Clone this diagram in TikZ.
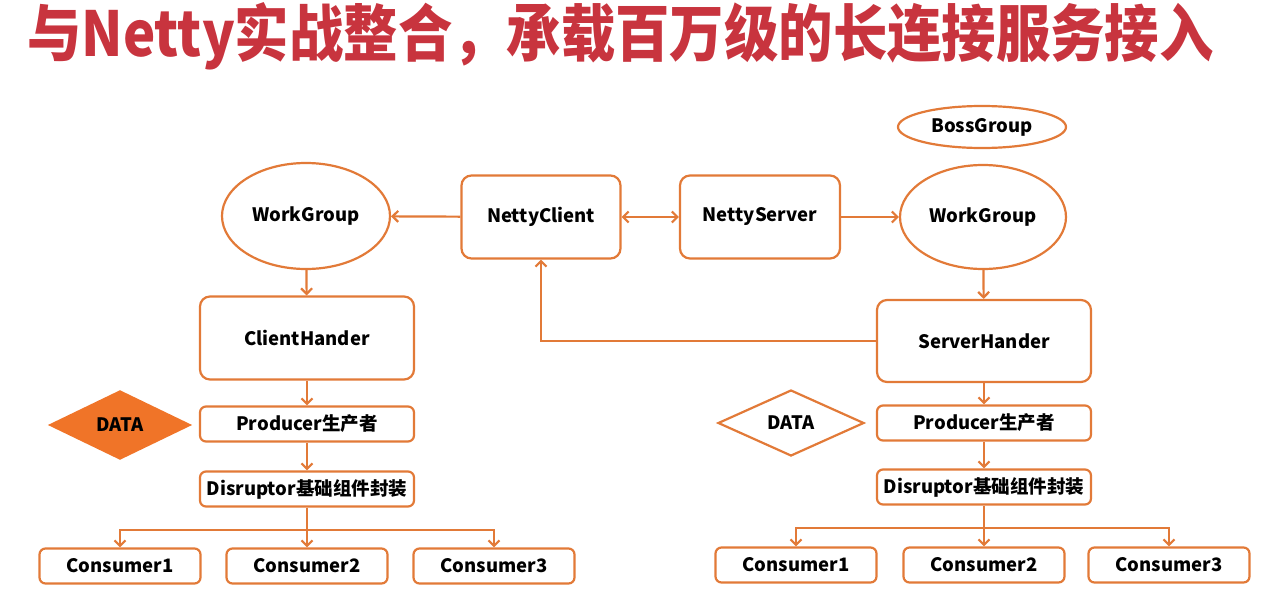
\documentclass[tikz,border=0pt]{standalone}
\usepackage{fontspec}
\setmainfont{Noto Sans CJK SC}
\usetikzlibrary{arrows.meta,shapes.geometric}
\definecolor{org}{RGB}{226,122,56}
\definecolor{orgfill}{RGB}{240,116,40}
\definecolor{titlered}{RGB}{200,52,62}
\tikzset{
  base/.style={draw=org,line width=2.2pt,inner sep=0pt,font=\fontsize{18.5}{20}\selectfont\bfseries,text=black},
  bigbox/.style={base,rounded corners=10pt},
  smallbox/.style={base,rounded corners=6pt,minimum width=214pt,minimum height=35pt},
  consbox/.style={base,rounded corners=6pt,minimum width=161pt,minimum height=35pt},
  ell/.style={base,ellipse},
  dia/.style={base,diamond,aspect=2},
  conn/.style={draw=org,line width=2.2pt},
  arr/.style={conn,-{Straight Barb[length=5.5pt,width=11pt,line width=2.2pt]}},
  darr/.style={conn,{Straight Barb[length=5.5pt,width=11pt,line width=2.2pt]}-{Straight Barb[length=5.5pt,width=11pt,line width=2.2pt]}}
}
\begin{document}
\begin{tikzpicture}[x=1pt,y=-1pt]
\useasboundingbox (0,0) rectangle (1263,597);
\node[anchor=west,inner sep=0pt,text=titlered,font=\fontsize{62}{62}\selectfont\bfseries] (title) at (27,36) {\scalebox{0.877}[1]{与Netty实战整合，承载百万级的长连接服务接入}};
% top row
\node[ell,minimum width=168pt,minimum height=106pt] (wgl) at (306,216) {WorkGroup};
\node[bigbox,minimum width=159pt,minimum height=83pt] (nc) at (541,217) {NettyClient};
\node[bigbox,minimum width=160pt,minimum height=83pt] (ns) at (760,217) {NettyServer};
\node[ell,minimum width=166pt,minimum height=104pt] (wgr) at (983,217) {WorkGroup};
\node[ell,minimum width=168pt,minimum height=42pt] (bg) at (982,127) {BossGroup};
% handlers
\node[bigbox,minimum width=214pt,minimum height=83pt] (ch) at (307,338) {ClientHander};
\node[bigbox,minimum width=214pt,minimum height=82pt] (sh) at (984,341) {ServerHander};
% left chain
\node[dia,fill=orgfill,draw=orgfill,minimum width=140pt,minimum height=68pt] (dal) at (120,425) {DATA};
\node[smallbox] (pl) at (307,424) {Producer生产者};
\node[smallbox] (dl) at (307,489) {Disruptor基础组件封装};
\node[consbox] (c1l) at (120,566) {Consumer1};
\node[consbox] (c2l) at (307,566) {Consumer2};
\node[consbox] (c3l) at (494,566) {Consumer3};
\coordinate (jl) at (307,530);
% right chain
\node[dia,minimum width=146pt,minimum height=66pt] (dar) at (791,423) {DATA};
\node[smallbox] (pr) at (984,423) {Producer生产者};
\node[smallbox] (dr) at (984,487) {Disruptor基础组件封装};
\node[consbox] (c1r) at (796,565) {Consumer1};
\node[consbox] (c2r) at (984,565) {Consumer2};
\node[consbox] (c3r) at (1169,565) {Consumer3};
\coordinate (jr) at (984,528);
% connectors
\draw[arr] (nc) -- (wgl);
\draw[darr] (nc) -- (ns);
\draw[arr] (ns) -- (wgr);
\draw[arr] (wgl) -- (ch);
\draw[arr] (wgr) -- (sh);
\draw[arr] (sh.west) -| (nc.south);
\draw[arr] (ch) -- (pl);
\draw[arr] (pl) -- (dl);
\draw[conn] (dl.south) -- (jl);
\draw[arr] (jl) -| (c1l.north);
\draw[arr] (jl) -- (c2l.north);
\draw[arr] (jl) -| (c3l.north);
\draw[arr] (sh) -- (pr);
\draw[arr] (pr) -- (dr);
\draw[conn] (dr.south) -- (jr);
\draw[arr] (jr) -| (c1r.north);
\draw[arr] (jr) -- (c2r.north);
\draw[arr] (jr) -| (c3r.north);
\end{tikzpicture}
\end{document}
